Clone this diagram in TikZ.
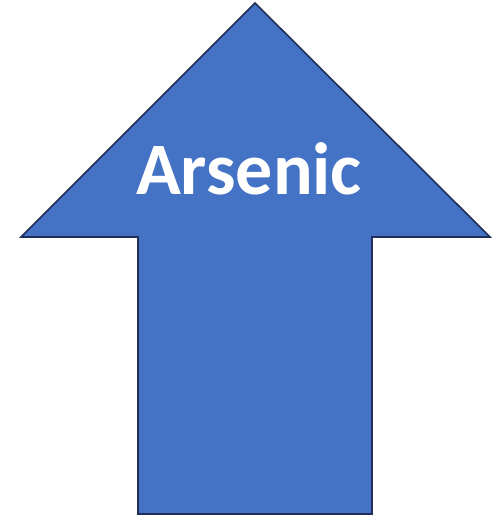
\documentclass[tikz,border=0pt]{standalone}
\usepackage{fontspec}
\setmainfont{Carlito}
\definecolor{arrowfill}{HTML}{4472C4}
\definecolor{arrowline}{HTML}{1F2F58}
\begin{document}
\begin{tikzpicture}[x=1pt,y=-1pt,
  arrowshape/.style={fill=arrowfill,draw=arrowline,line width=1.6pt,line join=miter},
  label/.style={text=white,font=\bfseries\fontsize{74}{80}\selectfont,inner sep=0pt,anchor=base}]
\useasboundingbox (0,0) rectangle (502,518);
\draw[arrowshape] (255,3) -- (490,237) -- (372,237) -- (372,514) -- (138,514) -- (138,237) -- (21,237) -- cycle;
\node[label] (t) at (249,195) {Arsenic};
\end{tikzpicture}
\end{document}
